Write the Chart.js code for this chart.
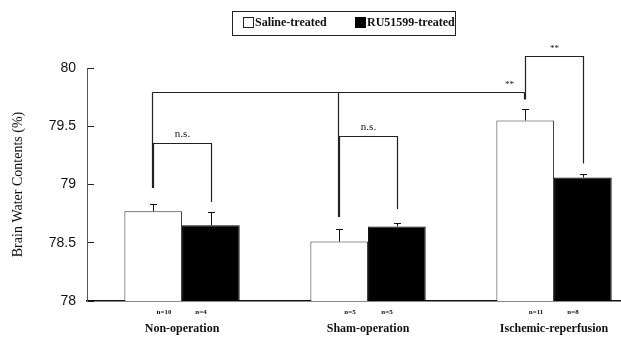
<!DOCTYPE html>
<html>
<head>
<meta charset="utf-8">
<script src="https://cdn.jsdelivr.net/npm/chart.js@4.4.1/dist/chart.umd.min.js"></script>
<style>
html,body{margin:0;padding:0;background:#fff;overflow:hidden;}
canvas{display:block;}
</style>
</head>
<body>
<canvas id="c" width="621" height="337"></canvas>
<script>
// ---- data ----
const categories = ['Non-operation', 'Sham-operation', 'Ischemic-reperfusion'];
const seriesNames = ['Saline-treated', 'RU51599-treated'];
const salineMean = [78.77, 78.51, 79.55];
const salineErr = [0.06, 0.11, 0.10];
const ruMean = [78.65, 78.64, 79.06];
const ruErr = [0.11, 0.03, 0.03];
const salineN = ['n=10', 'n=5', 'n=11'];
const ruN = ['n=4', 'n=5', 'n=8'];
const yTickLabels = ['78', '78.5', '79', '79.5', '80'];
// significance brackets (value space)
const pairTop = [79.36, 79.42, 80.10];
const pairLeftEnd = [78.97, 78.72, 79.73];
const pairRightEnd = [78.85, 78.79, 79.18];
const pairLabels = ['n.s.', 'n.s.', '**'];
const overallTop = 79.79;
const overallEnds = [78.97, 78.72, 79.73];
const overallLabel = '**';

const serif = '"Liberation Serif", "Times New Roman", serif';

const overlay = {
  id: 'overlay',
  afterDatasetsDraw(chart) {
    const ctx = chart.ctx;
    const ys = chart.scales.y, xs = chart.scales.x;
    const m0 = chart.getDatasetMeta(0), m1 = chart.getDatasetMeta(1);
    ctx.save();
    // error bars
    ctx.strokeStyle = '#111';
    ctx.lineWidth = 1;
    const errs = [salineErr, ruErr], means = [salineMean, ruMean];
    [m0, m1].forEach((m, d) => {
      m.data.forEach((bar, i) => {
        const x = Math.round(bar.x) + 0.5;
        const yTop = ys.getPixelForValue(means[d][i] + errs[d][i]);
        ctx.beginPath();
        ctx.moveTo(x, bar.y);
        ctx.lineTo(x, Math.round(yTop) + 0.5);
        ctx.moveTo(x - 3.5, Math.round(yTop) + 0.5);
        ctx.lineTo(x + 3.5, Math.round(yTop) + 0.5);
        ctx.stroke();
      });
    });
    // n labels
    ctx.fillStyle = '#111';
    ctx.font = 'bold 7px ' + serif;
    ctx.textAlign = 'center';
    ctx.textBaseline = 'middle';
    categories.forEach((c, i) => {
      const cx = xs.getPixelForValue(i + 1);
      ctx.fillText(salineN[i], cx - 18, 312);
      ctx.fillText(ruN[i], cx + 19, 312);
    });
    // pair brackets
    ctx.strokeStyle = '#222';
    ctx.lineWidth = 1.2;
    categories.forEach((c, i) => {
      const xl = Math.round(m0.data[i].x) + 0.5;
      const xr = Math.round(m1.data[i].x) + 0.5;
      const yt = Math.round(ys.getPixelForValue(pairTop[i])) + 0.5;
      ctx.beginPath();
      ctx.moveTo(xl, ys.getPixelForValue(pairLeftEnd[i]));
      ctx.lineTo(xl, yt);
      ctx.lineTo(xr, yt);
      ctx.lineTo(xr, ys.getPixelForValue(pairRightEnd[i]));
      ctx.stroke();
      const lbl = pairLabels[i];
      if (lbl === '**') {
        ctx.font = '9px ' + serif;
        ctx.fillText(lbl, (xl + xr) / 2, yt - 8);
      } else {
        ctx.font = '11px ' + serif;
        ctx.fillText(lbl, (xl + xr) / 2, yt - 9);
      }
    });
    // overall bracket
    const yo = Math.round(ys.getPixelForValue(overallTop)) + 0.5;
    const xsO = m0.data.map(b => Math.round(b.x) - 0.5);
    ctx.beginPath();
    ctx.moveTo(xsO[0], yo);
    ctx.lineTo(xsO[xsO.length - 1], yo);
    xsO.forEach((x, i) => {
      ctx.moveTo(x, yo);
      ctx.lineTo(x, ys.getPixelForValue(overallEnds[i]));
    });
    ctx.stroke();
    ctx.font = '9px ' + serif;
    ctx.fillText(overallLabel, xsO[xsO.length - 1] - 15, yo - 8);
    ctx.restore();
  },
  afterDraw(chart) {
    const ctx = chart.ctx;
    ctx.save();
    ctx.strokeStyle = '#222';
    ctx.lineWidth = 1;
    ctx.strokeRect(232.5, 11.5, 223, 24);
    ctx.strokeRect(243.5, 17.5, 10, 10);
    ctx.fillStyle = '#000';
    ctx.fillRect(355, 17, 11, 11);
    ctx.fillStyle = '#111';
    ctx.font = 'bold 12px ' + serif;
    ctx.textAlign = 'left';
    ctx.textBaseline = 'middle';
    ctx.fillText(seriesNames[0], 255, 23);
    ctx.fillText(seriesNames[1], 367, 23);
    ctx.restore();
  }
};

new Chart(document.getElementById('c'), {
  type: 'bar',
  data: {
    datasets: [
      {
        label: seriesNames[0],
        data: salineMean.map((v, i) => ({ x: i + 1, y: v })),
        backgroundColor: '#fff',
        borderColor: '#333',
        borderWidth: 1,
        categoryPercentage: 0.62,
        barPercentage: 1
      },
      {
        label: seriesNames[1],
        data: ruMean.map((v, i) => ({ x: i + 1, y: v })),
        backgroundColor: '#000',
        borderColor: '#000',
        borderWidth: 1,
        categoryPercentage: 0.62,
        barPercentage: 1
      }
    ]
  },
  options: {
    responsive: false,
    animation: false,
    devicePixelRatio: 1,
    layout: { padding: { top: 68, left: 0, right: 0, bottom: 0 } },
    plugins: { legend: { display: false }, tooltip: { enabled: false } },
    scales: {
      x: {
        type: 'linear',
        offset: false,
        min: 0.489,
        max: 3.36,
        afterBuildTicks(scale) {
          scale.ticks = categories.map((c, i) => ({ value: i + 1 }));
        },
        afterFit(scale) {
          scale.height = 36;
          scale.paddingLeft = 0;
          scale.paddingRight = 0;
        },
        grid: { display: true, offset: false, drawOnChartArea: false, drawTicks: false },
        border: { display: true, color: '#111', width: 1.5 },
        ticks: {
          padding: 21,
          autoSkip: false,
          maxRotation: 0,
          color: '#111',
          font: { family: serif, size: 12, weight: 'bold' },
          callback: (v) => categories[Math.round(v) - 1]
        }
      },
      y: {
        min: 78,
        max: 80,
        afterFit(scale) { scale.width = 87; },
        grid: { display: true, drawOnChartArea: false, drawTicks: true, tickLength: -7, color: '#222' },
        border: { display: true, color: '#555', width: 1 },
        ticks: {
          stepSize: 0.5,
          padding: 18,
          color: '#111',
          font: { family: '"Liberation Sans Narrow", "Liberation Sans", Arial, sans-serif', size: 14 },
          callback: (v) => yTickLabels[Math.round((v - 78) / 0.5)]
        },
        title: {
          display: true,
          text: 'Brain Water Contents (%)',
          color: '#111',
          padding: { top: 10, bottom: 0 },
          font: { family: serif, size: 14 }
        }
      }
    }
  },
  plugins: [overlay]
});
</script>
</body>
</html>
